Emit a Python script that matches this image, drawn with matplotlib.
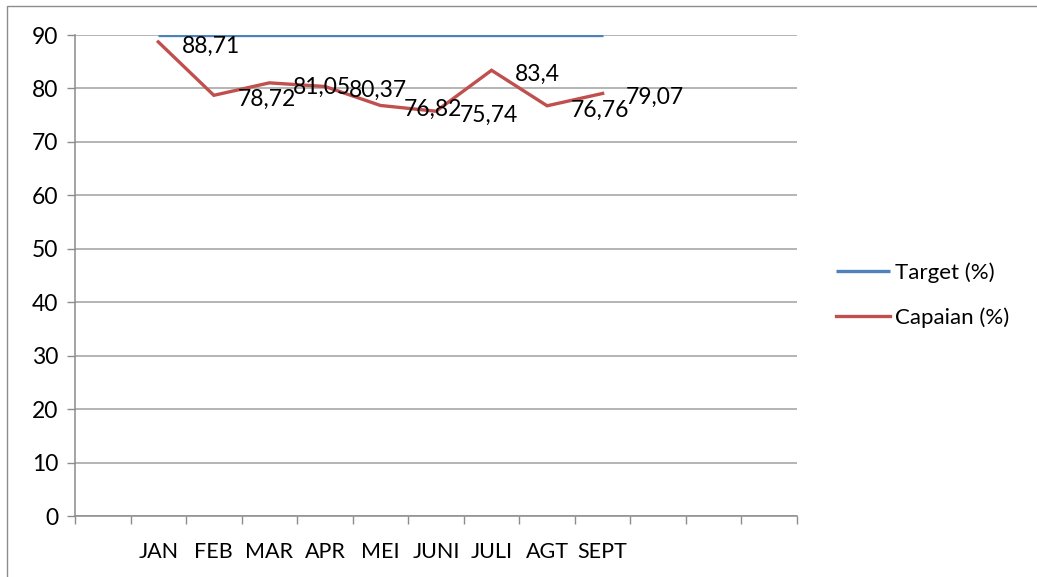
import matplotlib.pyplot as plt
from matplotlib.patches import Rectangle

months = ["", "JAN", "FEB", "MAR", "APR", "MEI", "JUNI", "JULI", "AGT", "SEPT", "", "", ""]
target = [None, 90, 90, 90, 90, 90, 90, 90, 90, 90]
capaian = [None, 88.71, 78.72, 81.05, 80.37, 76.82, 75.74, 83.4, 76.76, 79.07]
capaian_labels = ["", "88,71", "78,72", "81,05", "80,37", "76,82", "75,74", "83,4", "76,76", "79,07"]

plt.rcParams["font.family"] = ["Lato", "DejaVu Sans"]

fig = plt.figure(figsize=(10.37, 5.77), dpi=100)
ax = fig.add_axes([0.0723, 0.1057, 0.6963, 0.8336])

x = range(len(target))
ax.plot(x, [float("nan") if v is None else v for v in target], color="#4F81BD", lw=2.4,
        label="Target (%)", solid_capstyle="butt", zorder=3)
ax.plot(x, [float("nan") if v is None else v for v in capaian], color="#C0504D", lw=2.4,
        label="Capaian (%)", solid_joinstyle="miter", zorder=4)

# data labels to the right of each point
for i, (v, t) in enumerate(zip(capaian, capaian_labels)):
    if v is None:
        continue
    ax.annotate(t, (i, v), xytext=(17, -3), textcoords="offset points",
                va="center", ha="left", fontsize=16.5, zorder=5)

ax.set_xlim(-0.5, len(months) - 0.5)
ax.set_ylim(0, 90)
ax.set_yticks(range(0, 91, 10))
ax.set_xticks(range(len(months)))
ax.set_xticklabels(months, fontsize=15.5)
ax.set_xticks([i - 0.5 for i in range(len(months) + 1)], minor=True)
ax.tick_params(axis="x", which="major", length=0, pad=19)
ax.tick_params(axis="x", which="minor", length=6, color="#8C8C8C", width=1)
ax.tick_params(axis="y", length=6, color="#8C8C8C", width=1, labelsize=16.5, pad=6)

ax.grid(axis="y", color="#A0A0A0", lw=1.1)
ax.set_axisbelow(True)
for s in ["top", "right"]:
    ax.spines[s].set_visible(False)
for s in ["left", "bottom"]:
    ax.spines[s].set_color("#8C8C8C")
    ax.spines[s].set_linewidth(1.1)

ax.legend(loc="center left", bbox_to_anchor=(1.054, 0.46), frameon=False,
          fontsize=16, handlelength=2.45, handletextpad=0.2, labelspacing=1.1,
          borderpad=0, borderaxespad=0)

# outer chart border
fig.patches.append(Rectangle((7 / 1037, -0.5), 1.5, 0.5 + 1 - 6 / 577, transform=fig.transFigure,
                             fill=False, edgecolor="#8C8C8C", lw=1))

fig.savefig("out.png", dpi=100)
